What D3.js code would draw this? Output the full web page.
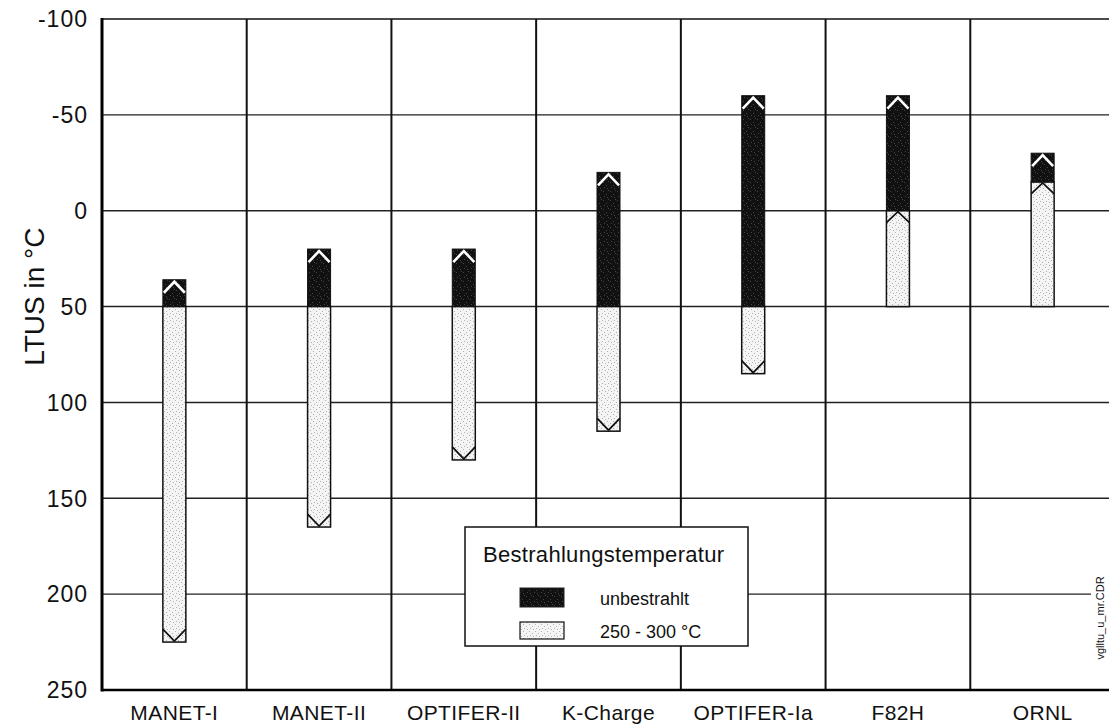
<!DOCTYPE html>
<html>
<head>
<meta charset="utf-8">
<script src="https://cdn.jsdelivr.net/npm/d3@7"></script>
<style>
  html, body { margin: 0; padding: 0; background: #fff; }
  svg { display: block; font-family: "Liberation Sans", Arial, sans-serif; }
</style>
</head>
<body>
<svg id="chart" width="1109" height="724"></svg>
<script>
// Materials and their LTUS values (°C)
const categories = ["MANET-I", "MANET-II", "OPTIFER-II", "K-Charge", "OPTIFER-Ia", "F82H", "ORNL"];
const unirradiated = [36, 20, 20, -20, -60, -60, -30];     // unbestrahlt
const irradiated = [225, 165, 130, 115, 85, 0, -15];        // 250 - 300 °C
const baseline = 50;                                        // common reference level of the bars
const yTicks = [-100, -50, 0, 50, 100, 150, 200, 250];
const legendTitle = "Bestrahlungstemperatur";
const legendLabels = ["unbestrahlt", "250 - 300 °C"];

const svg = d3.select("#chart");
const plotLeft = 102, plotRight = 1115, plotTop = 19, plotBottom = 690;

const y = d3.scaleLinear().domain([-100, 250]).range([plotTop, plotBottom]);
const x = d3.scaleBand().domain(categories).range([plotLeft, plotRight]).padding(0);
const barW = 23;

// textures
const defs = svg.append("defs");
const dark = defs.append("pattern").attr("id", "darkFill")
  .attr("patternUnits", "userSpaceOnUse").attr("width", 7).attr("height", 9);
dark.append("rect").attr("width", 7).attr("height", 9).attr("fill", "#111");
[[1,2],[4,5],[6,1],[2,7],[5,8]].forEach(([a,b]) =>
  dark.append("rect").attr("x", a).attr("y", b).attr("width", 1).attr("height", 1).attr("fill", "#444"));
const light = defs.append("pattern").attr("id", "lightFill")
  .attr("patternUnits", "userSpaceOnUse").attr("width", 6).attr("height", 7);
light.append("rect").attr("width", 6).attr("height", 7).attr("fill", "#f4f4f4");
[[1,1],[4,3],[2,5],[5,6]].forEach(([a,b]) =>
  light.append("rect").attr("x", a).attr("y", b).attr("width", 1).attr("height", 1).attr("fill", "#b0b0b0"));

// horizontal grid lines
svg.append("g").selectAll("line")
  .data(yTicks.filter(t => t > -100 && t < 250))
  .join("line")
  .attr("x1", plotLeft).attr("x2", 1109)
  .attr("y1", d => y(d)).attr("y2", d => y(d))
  .attr("stroke", "#222").attr("stroke-width", 1.4);

// top frame line
svg.append("line").attr("x1", plotLeft).attr("x2", 1109)
  .attr("y1", y(-100)).attr("y2", y(-100))
  .attr("stroke", "#111").attr("stroke-width", 1.6);

// column dividers
svg.append("g").selectAll("line")
  .data(categories.slice(1))
  .join("line")
  .attr("x1", d => x(d)).attr("x2", d => x(d))
  .attr("y1", plotTop).attr("y2", plotBottom)
  .attr("stroke", "#111").attr("stroke-width", 2);

// bars
const rows = categories.map((c, i) => {
  const u = unirradiated[i], r = irradiated[i];
  return { c, u, r, darkTop: u, darkBot: Math.min(r, baseline),
           lightTop: Math.min(r, baseline), lightBot: Math.max(r, baseline),
           arrowUp: r < baseline };
});

const barX = d => x(d.c) + x.bandwidth() / 2 - barW / 2;
const bars = svg.append("g").selectAll("g").data(rows).join("g");

bars.append("rect")
  .attr("x", barX)
  .attr("y", d => y(d.lightTop))
  .attr("width", barW)
  .attr("height", d => y(d.lightBot) - y(d.lightTop))
  .attr("fill", "url(#lightFill)").attr("stroke", "#111").attr("stroke-width", 1.5);

bars.append("rect")
  .attr("x", barX)
  .attr("y", d => y(d.darkTop))
  .attr("width", barW)
  .attr("height", d => y(d.darkBot) - y(d.darkTop))
  .attr("fill", "url(#darkFill)").attr("stroke", "#111").attr("stroke-width", 1);

// white chevron at the unirradiated end
bars.append("path")
  .attr("d", d => {
    const x0 = barX(d), cx = x0 + barW / 2, t = y(d.darkTop);
    return `M${x0 + 1},${t + 13}L${cx},${t + 2}L${x0 + barW - 1},${t + 13}`;
  })
  .attr("fill", "none").attr("stroke", "#fff").attr("stroke-width", 2.6);

// black chevron at the irradiated end
bars.append("path")
  .attr("d", d => {
    const x0 = barX(d), cx = x0 + barW / 2;
    if (d.arrowUp) {
      const t = y(d.r);
      return `M${x0},${t + 12}L${cx},${t + 1}L${x0 + barW},${t + 12}`;
    }
    const b = y(d.r);
    return `M${x0},${b - 13}L${cx},${b - 1}L${x0 + barW},${b - 13}`;
  })
  .attr("fill", "none").attr("stroke", "#111").attr("stroke-width", 1.7);

// left and bottom axis frame
svg.append("line").attr("x1", plotLeft).attr("x2", plotLeft).attr("y1", plotTop - 1).attr("y2", plotBottom + 1.5)
  .attr("stroke", "#000").attr("stroke-width", 3);
svg.append("line").attr("x1", plotLeft).attr("x2", 1109).attr("y1", plotBottom).attr("y2", plotBottom)
  .attr("stroke", "#000").attr("stroke-width", 2.6);

// y tick labels
svg.append("g").selectAll("text").data(yTicks).join("text")
  .attr("x", 88).attr("y", d => y(d)).attr("dy", "0.36em")
  .attr("text-anchor", "end").attr("font-size", 23).attr("letter-spacing", 1).attr("fill", "#111")
  .text(d => d);

// y axis title
svg.append("text")
  .attr("transform", `translate(44,${(y(50) + y(0)) / 2 + 38}) rotate(-90)`)
  .attr("text-anchor", "middle").attr("font-size", 28).attr("fill", "#111")
  .text("LTUS in °C");

// category labels
svg.append("g").selectAll("text").data(categories).join("text")
  .attr("x", d => x(d) + x.bandwidth() / 2).attr("y", 720)
  .attr("text-anchor", "middle").attr("font-size", 21).attr("letter-spacing", 0.4).attr("fill", "#111")
  .text(d => d);

// legend
const lg = svg.append("g");
lg.append("rect").attr("x", 465).attr("y", 527).attr("width", 283).attr("height", 119)
  .attr("fill", "#fff").attr("stroke", "#111").attr("stroke-width", 1.5);
lg.append("text").attr("x", 483).attr("y", 562).attr("font-size", 22).attr("letter-spacing", 0.3).attr("fill", "#111").text(legendTitle);
lg.append("rect").attr("x", 520).attr("y", 588).attr("width", 44).attr("height", 19)
  .attr("fill", "url(#darkFill)").attr("stroke", "#222").attr("stroke-width", 1);
lg.append("rect").attr("x", 520).attr("y", 622).attr("width", 44).attr("height", 17)
  .attr("fill", "url(#lightFill)").attr("stroke", "#111").attr("stroke-width", 1.2);
lg.append("text").attr("x", 600).attr("y", 605).attr("font-size", 18).attr("fill", "#111").text(legendLabels[0]);
lg.append("text").attr("x", 600).attr("y", 638).attr("font-size", 18).attr("fill", "#111").text(legendLabels[1]);

// file tag along the right edge
svg.append("rect").attr("x", 1091).attr("y", 574).attr("width", 18).attr("height", 90).attr("fill", "#fff");
svg.append("text")
  .attr("transform", "translate(1104,618) rotate(-90)")
  .attr("text-anchor", "middle").attr("font-size", 11).attr("fill", "#111")
  .text("vglltu_u_mr.CDR");
</script>
</body>
</html>
